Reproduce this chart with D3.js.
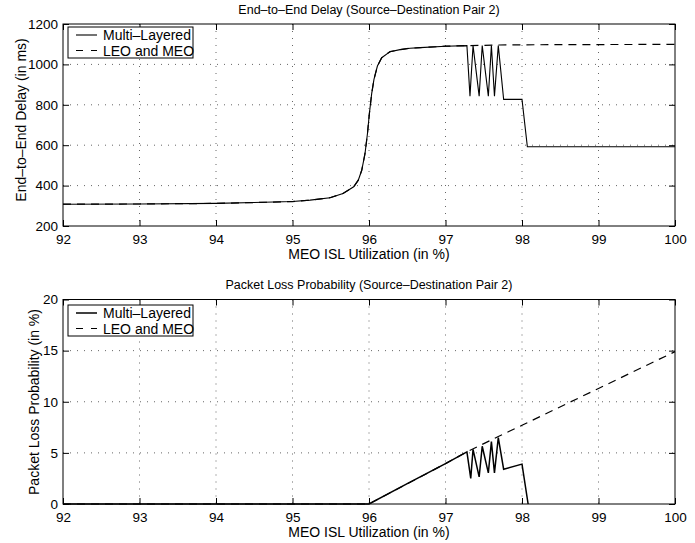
<!DOCTYPE html>
<html>
<head>
<meta charset="utf-8">
<script src="https://cdn.jsdelivr.net/npm/d3@7"></script>
<style>
  html, body { margin: 0; padding: 0; background: #fff; }
  svg { display: block; }
  text { font-family: "Liberation Sans", Arial, Helvetica, sans-serif; fill: #000; }
</style>
</head>
<body>
<svg id="chart" width="695" height="543"></svg>
<script>
// ---- data -------------------------------------------------------------
const utilTicks = [92, 93, 94, 95, 96, 97, 98, 99, 100];
const delayTicks = [200, 400, 600, 800, 1000, 1200];
const lossTicks = [0, 5, 10, 15, 20];

// End-to-end delay (ms), Multi-Layered
const delayMultiUtil = [92, 93, 94, 94.5, 95, 95.23, 95.49, 95.66, 95.8, 95.86, 95.905, 95.948, 95.98, 96.005, 96.035, 96.065, 96.11, 96.166, 96.275, 96.405, 96.536, 96.67, 97.0, 97.28, 97.32, 97.36, 97.44, 97.48, 97.56, 97.6, 97.64, 97.69, 97.76, 98.0, 98.07, 100];
const delayMultiVals = [308, 309, 312, 316, 321, 328, 340, 361, 394, 427, 476, 559, 658, 757, 855, 926, 992, 1033, 1063, 1073, 1080, 1083, 1090, 1093, 843, 1093, 843, 1093, 843, 1093, 843, 1093, 827, 827, 592, 592];

// End-to-end delay (ms), LEO and MEO
const delayLeoUtil = [92, 93, 94, 94.5, 95, 95.23, 95.49, 95.66, 95.8, 95.86, 95.905, 95.948, 95.98, 96.005, 96.035, 96.065, 96.11, 96.166, 96.275, 96.405, 96.536, 96.67, 97.0, 97.28, 97.7, 98.5, 100];
const delayLeoVals = [308, 309, 312, 316, 321, 328, 340, 361, 394, 427, 476, 559, 658, 757, 855, 926, 992, 1033, 1063, 1073, 1080, 1083, 1090, 1093, 1096, 1098, 1099];

// Packet loss probability (%), Multi-Layered
const lossMultiUtil = [92, 96, 96.5, 97, 97.28, 97.33, 97.36, 97.44, 97.48, 97.56, 97.6, 97.64, 97.69, 97.76, 98.0, 98.08];
const lossMultiVals = [0, 0, 2.0, 3.95, 5.1, 2.5, 5.35, 2.65, 5.65, 3.05, 6.1, 3.05, 6.5, 3.4, 3.9, 0];

// Packet loss probability (%), LEO and MEO
const lossLeoUtil = [92, 96, 97, 97.28, 97.69, 98, 99, 100];
const lossLeoVals = [0, 0, 3.95, 5.1, 6.6, 7.7, 11.3, 14.9];

const seriesNames = ["Multi\u2013Layered", "LEO and MEO"];

// ---- layout -----------------------------------------------------------
const svg = d3.select("#chart");
const left = 63, right = 675;

const panels = [
  {
    title: "End\u2013to\u2013End Delay (Source\u2013Destination Pair 2)",
    ylabel: "End\u2013to\u2013End Delay (in ms)",
    top: 24, bottom: 226, domain: [200, 1200], ticks: delayTicks,
    ylabelX: 26, ylabelY: 120,
    multi: { u: delayMultiUtil, v: delayMultiVals, w: 1.1 },
    leo: { u: delayLeoUtil, v: delayLeoVals },
    legendTop: 27
  },
  {
    title: "Packet Loss Probability (Source\u2013Destination Pair 2)",
    ylabel: "Packet Loss Probability (in %)",
    top: 299.5, bottom: 504, domain: [0, 20], ticks: lossTicks,
    ylabelX: 39, ylabelY: 402,
    multi: { u: lossMultiUtil, v: lossMultiVals, w: 1.5 },
    leo: { u: lossLeoUtil, v: lossLeoVals },
    legendTop: 305
  }
];

const TICK_FONT = 13.5, LABEL_FONT = 14, TITLE_FONT = 12.5;

panels.forEach(p => {
  const x = d3.scaleLinear().domain([92, 100]).range([left, right]);
  const y = d3.scaleLinear().domain(p.domain).range([p.bottom, p.top]);
  const g = svg.append("g");

  // dotted grid
  g.append("g").selectAll("line").data(utilTicks.slice(1, -1)).join("line")
    .attr("x1", d => x(d)).attr("x2", d => x(d))
    .attr("y1", p.top).attr("y2", p.bottom)
    .attr("stroke", "#666").attr("stroke-width", 1).attr("stroke-dasharray", "1,6");
  g.append("g").selectAll("line").data(p.ticks.slice(1, -1)).join("line")
    .attr("x1", left).attr("x2", right)
    .attr("y1", d => y(d)).attr("y2", d => y(d))
    .attr("stroke", "#666").attr("stroke-width", 1).attr("stroke-dasharray", "1,6");

  // axes with inward ticks on all sides
  const tl = 6;
  const bottomAxis = d3.axisBottom(x).tickValues(utilTicks).tickSizeInner(-tl).tickSizeOuter(0).tickPadding(8).tickFormat(d3.format("d"));
  const topAxis = d3.axisTop(x).tickValues(utilTicks).tickSizeInner(-tl).tickSizeOuter(0).tickFormat("");
  const leftAxis = d3.axisLeft(y).tickValues(p.ticks).tickSizeInner(-tl).tickSizeOuter(0).tickPadding(5).tickFormat(d3.format("d"));
  const rightAxis = d3.axisRight(y).tickValues(p.ticks).tickSizeInner(-tl).tickSizeOuter(0).tickFormat("");

  const styleAxis = sel => {
    sel.select(".domain").remove();
    sel.selectAll("line").attr("stroke", "#000");
    sel.selectAll("text").style("font-size", TICK_FONT + "px").attr("fill", "#000");
  };
  g.append("g").attr("transform", `translate(0,${p.bottom})`).call(bottomAxis).call(styleAxis);
  g.append("g").attr("transform", `translate(0,${p.top})`).call(topAxis).call(styleAxis);
  g.append("g").attr("transform", `translate(${left},0)`).call(leftAxis).call(styleAxis);
  g.append("g").attr("transform", `translate(${right},0)`).call(rightAxis).call(styleAxis);

  // series lines
  const line = d3.line().x(d => x(d[0])).y(d => y(d[1]));
  const leoPts = p.leo.u.map((u, i) => [u, p.leo.v[i]]);
  const multiPts = p.multi.u.map((u, i) => [u, p.multi.v[i]]);
  g.append("path").datum(leoPts).attr("d", line)
    .attr("fill", "none").attr("stroke", "#000").attr("stroke-width", 1.2)
    .attr("stroke-dasharray", "8,6");
  g.append("path").datum(multiPts).attr("d", line)
    .attr("fill", "none").attr("stroke", "#000").attr("stroke-width", p.multi.w)
    .attr("stroke-linejoin", "miter");

  // frame
  g.append("rect").attr("x", left).attr("y", p.top)
    .attr("width", right - left).attr("height", p.bottom - p.top)
    .attr("fill", "none").attr("stroke", "#000").attr("stroke-width", 1);

  // titles and labels
  g.append("text").attr("x", (left + right) / 2).attr("y", p.top - 10.5)
    .attr("text-anchor", "middle").style("font-size", TITLE_FONT + "px").text(p.title);
  g.append("text").attr("x", (left + right) / 2).attr("y", p.bottom + 32.5)
    .attr("text-anchor", "middle").style("font-size", LABEL_FONT + "px").text("MEO ISL Utilization (in %)");
  g.append("text")
    .attr("transform", `translate(${p.ylabelX},${p.ylabelY}) rotate(-90)`)
    .attr("text-anchor", "middle").style("font-size", LABEL_FONT + "px").text(p.ylabel);

  // legend
  const lg = g.append("g").attr("transform", `translate(68,${p.legendTop})`);
  lg.append("rect").attr("x", 0).attr("y", 0).attr("width", 125).attr("height", 31)
    .attr("fill", "#fff").attr("stroke", "#000").attr("stroke-width", 1);
  const rows = [{ dash: null, w: p.multi.w }, { dash: "7,8", w: 1.2 }];
  rows.forEach((r, i) => {
    const ry = 8 + i * 15.5;
    const ln = lg.append("line").attr("x1", 8).attr("x2", 29).attr("y1", ry).attr("y2", ry)
      .attr("stroke", "#000").attr("stroke-width", r.w);
    if (r.dash) ln.attr("stroke-dasharray", r.dash);
    lg.append("text").attr("x", 35).attr("y", ry + 5)
      .style("font-size", LABEL_FONT + "px").text(seriesNames[i]);
  });
});
</script>
</body>
</html>
